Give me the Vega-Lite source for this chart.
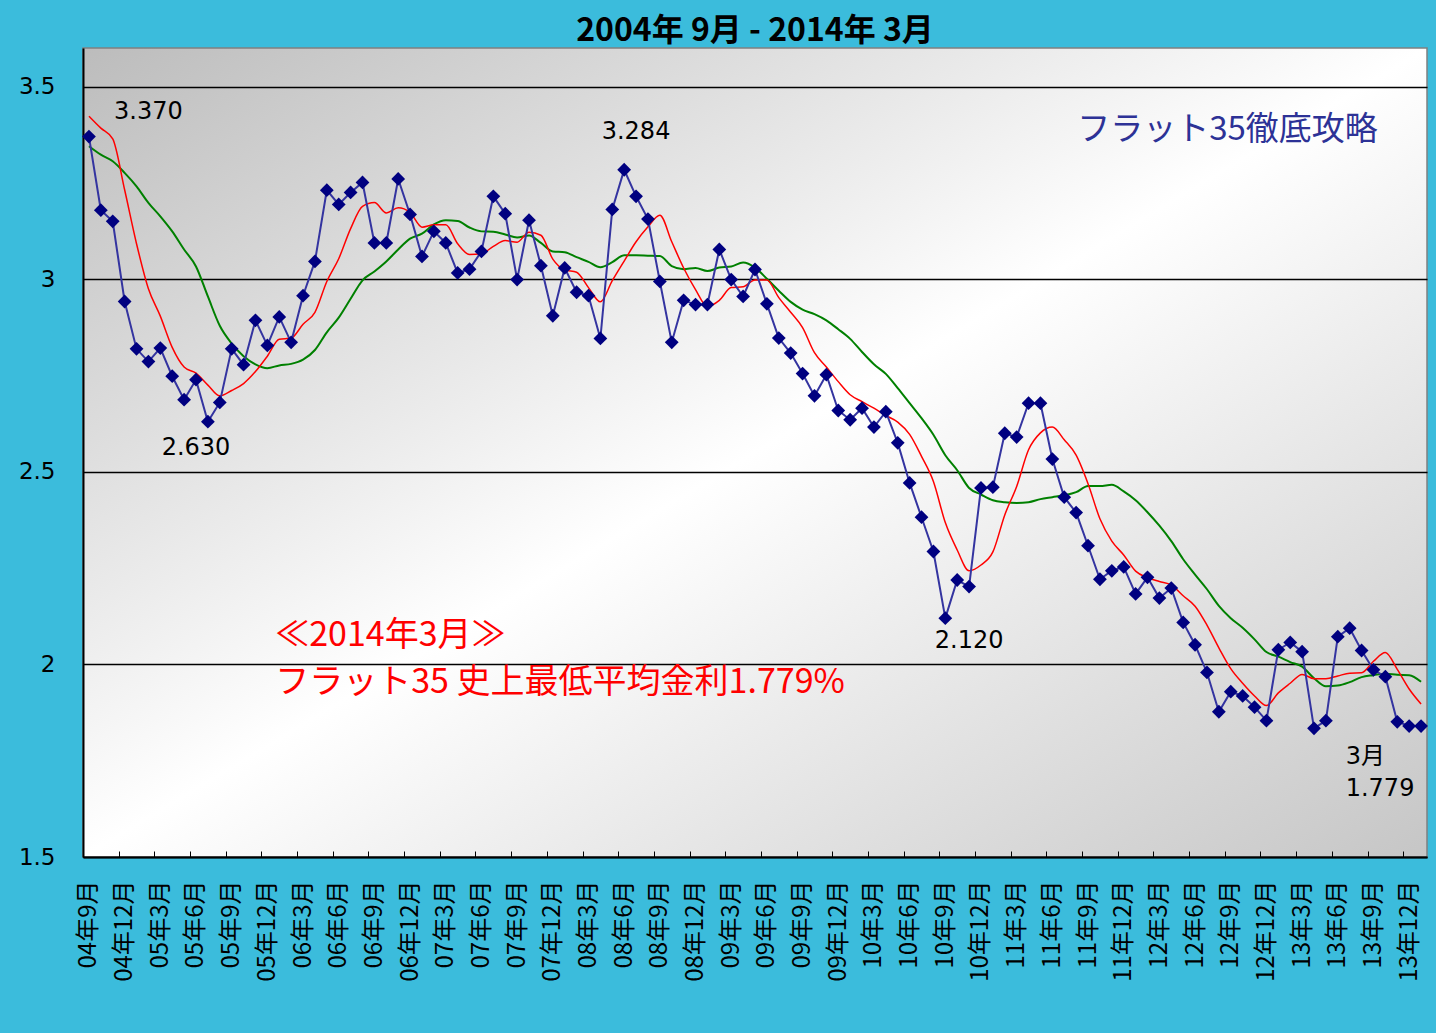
{
  "$schema": "https://vega.github.io/schema/vega-lite/v6.json",
  "width": 1344,
  "height": 809,
  "autosize": {"type": "none"},
  "padding": {"left": 83, "top": 48, "right": 9, "bottom": 176},
  "background": "#3bbcdc",
  "title": {"text": "2004年 9月 - 2014年 3月", "font": "Noto Sans CJK JP", "fontSize": 32, "fontWeight": "bold", "color": "#000000", "anchor": "middle", "frame": "group", "offset": 0},
  "config": {
    "view": {
      "fill": {"gradient": "linear", "x1": 0, "y1": 0, "x2": 1, "y2": 1,
        "stops": [{"offset": 0, "color": "#bcbcbc"}, {"offset": 0.5, "color": "#ffffff"}, {"offset": 1, "color": "#c6c6c6"}]},
      "stroke": "#808080",
      "strokeWidth": 1.5
    }
  },
  "datasets": {
    "rates": [
      {"month": "04年9月", "rate": 3.370, "ma5": 3.423, "ma12": 3.345},
      {"month": "04年10月", "rate": 3.179, "ma5": 3.392, "ma12": 3.323},
      {"month": "04年11月", "rate": 3.150, "ma5": 3.364, "ma12": 3.306},
      {"month": "04年12月", "rate": 2.942, "ma5": 3.232, "ma12": 3.276},
      {"month": "05年1月", "rate": 2.819, "ma5": 3.092, "ma12": 3.241},
      {"month": "05年2月", "rate": 2.786, "ma5": 2.975, "ma12": 3.198},
      {"month": "05年3月", "rate": 2.821, "ma5": 2.904, "ma12": 3.163},
      {"month": "05年4月", "rate": 2.748, "ma5": 2.823, "ma12": 3.124},
      {"month": "05年5月", "rate": 2.687, "ma5": 2.772, "ma12": 3.077},
      {"month": "05年6月", "rate": 2.739, "ma5": 2.756, "ma12": 3.033},
      {"month": "05年7月", "rate": 2.630, "ma5": 2.725, "ma12": 2.955},
      {"month": "05年8月", "rate": 2.680, "ma5": 2.697, "ma12": 2.879},
      {"month": "05年9月", "rate": 2.819, "ma5": 2.711, "ma12": 2.833},
      {"month": "05年10月", "rate": 2.778, "ma5": 2.729, "ma12": 2.800},
      {"month": "05年11月", "rate": 2.893, "ma5": 2.760, "ma12": 2.779},
      {"month": "05年12月", "rate": 2.828, "ma5": 2.800, "ma12": 2.769},
      {"month": "06年1月", "rate": 2.902, "ma5": 2.844, "ma12": 2.776},
      {"month": "06年2月", "rate": 2.836, "ma5": 2.847, "ma12": 2.780},
      {"month": "06年3月", "rate": 2.957, "ma5": 2.883, "ma12": 2.791},
      {"month": "06年4月", "rate": 3.046, "ma5": 2.914, "ma12": 2.816},
      {"month": "06年5月", "rate": 3.231, "ma5": 2.994, "ma12": 2.862},
      {"month": "06年6月", "rate": 3.194, "ma5": 3.053, "ma12": 2.900},
      {"month": "06年7月", "rate": 3.225, "ma5": 3.131, "ma12": 2.949},
      {"month": "06年8月", "rate": 3.251, "ma5": 3.189, "ma12": 2.997},
      {"month": "06年9月", "rate": 3.094, "ma5": 3.199, "ma12": 3.020},
      {"month": "06年10月", "rate": 3.094, "ma5": 3.172, "ma12": 3.046},
      {"month": "06年11月", "rate": 3.260, "ma5": 3.185, "ma12": 3.077},
      {"month": "06年12月", "rate": 3.168, "ma5": 3.173, "ma12": 3.105},
      {"month": "07年1月", "rate": 3.059, "ma5": 3.135, "ma12": 3.118},
      {"month": "07年2月", "rate": 3.124, "ma5": 3.141, "ma12": 3.142},
      {"month": "07年3月", "rate": 3.094, "ma5": 3.141, "ma12": 3.153},
      {"month": "07年4月", "rate": 3.016, "ma5": 3.092, "ma12": 3.151},
      {"month": "07年5月", "rate": 3.026, "ma5": 3.064, "ma12": 3.134},
      {"month": "07年6月", "rate": 3.072, "ma5": 3.066, "ma12": 3.124},
      {"month": "07年7月", "rate": 3.215, "ma5": 3.085, "ma12": 3.123},
      {"month": "07年8月", "rate": 3.170, "ma5": 3.100, "ma12": 3.116},
      {"month": "07年9月", "rate": 2.999, "ma5": 3.096, "ma12": 3.108},
      {"month": "07年10月", "rate": 3.153, "ma5": 3.122, "ma12": 3.113},
      {"month": "07年11月", "rate": 3.035, "ma5": 3.114, "ma12": 3.094},
      {"month": "07年12月", "rate": 2.905, "ma5": 3.052, "ma12": 3.072},
      {"month": "08年1月", "rate": 3.029, "ma5": 3.024, "ma12": 3.070},
      {"month": "08年2月", "rate": 2.966, "ma5": 3.018, "ma12": 3.057},
      {"month": "08年3月", "rate": 2.957, "ma5": 2.978, "ma12": 3.045},
      {"month": "08年4月", "rate": 2.846, "ma5": 2.941, "ma12": 3.031},
      {"month": "08年5月", "rate": 3.181, "ma5": 2.996, "ma12": 3.044},
      {"month": "08年6月", "rate": 3.284, "ma5": 3.047, "ma12": 3.062},
      {"month": "08年7月", "rate": 3.215, "ma5": 3.097, "ma12": 3.062},
      {"month": "08年8月", "rate": 3.156, "ma5": 3.136, "ma12": 3.061},
      {"month": "08年9月", "rate": 2.994, "ma5": 3.166, "ma12": 3.060},
      {"month": "08年10月", "rate": 2.836, "ma5": 3.097, "ma12": 3.034},
      {"month": "08年11月", "rate": 2.945, "ma5": 3.029, "ma12": 3.026},
      {"month": "08年12月", "rate": 2.934, "ma5": 2.973, "ma12": 3.029},
      {"month": "09年1月", "rate": 2.934, "ma5": 2.929, "ma12": 3.021},
      {"month": "09年2月", "rate": 3.077, "ma5": 2.945, "ma12": 3.030},
      {"month": "09年3月", "rate": 2.999, "ma5": 2.978, "ma12": 3.033},
      {"month": "09年4月", "rate": 2.955, "ma5": 2.980, "ma12": 3.043},
      {"month": "09年5月", "rate": 3.025, "ma5": 2.998, "ma12": 3.030},
      {"month": "09年6月", "rate": 2.936, "ma5": 2.998, "ma12": 3.001},
      {"month": "09年7月", "rate": 2.847, "ma5": 2.952, "ma12": 2.970},
      {"month": "09年8月", "rate": 2.808, "ma5": 2.914, "ma12": 2.941},
      {"month": "09年9月", "rate": 2.755, "ma5": 2.874, "ma12": 2.921},
      {"month": "09年10月", "rate": 2.697, "ma5": 2.809, "ma12": 2.909},
      {"month": "09年11月", "rate": 2.752, "ma5": 2.772, "ma12": 2.893},
      {"month": "09年12月", "rate": 2.659, "ma5": 2.734, "ma12": 2.870},
      {"month": "10年1月", "rate": 2.635, "ma5": 2.700, "ma12": 2.845},
      {"month": "10年2月", "rate": 2.665, "ma5": 2.682, "ma12": 2.811},
      {"month": "10年3月", "rate": 2.616, "ma5": 2.665, "ma12": 2.779},
      {"month": "10年4月", "rate": 2.656, "ma5": 2.646, "ma12": 2.754},
      {"month": "10年5月", "rate": 2.575, "ma5": 2.629, "ma12": 2.717},
      {"month": "10年6月", "rate": 2.471, "ma5": 2.597, "ma12": 2.678},
      {"month": "10年7月", "rate": 2.382, "ma5": 2.540, "ma12": 2.639},
      {"month": "10年8月", "rate": 2.293, "ma5": 2.475, "ma12": 2.596},
      {"month": "10年9月", "rate": 2.120, "ma5": 2.368, "ma12": 2.543},
      {"month": "10年10月", "rate": 2.219, "ma5": 2.297, "ma12": 2.504},
      {"month": "10年11月", "rate": 2.202, "ma5": 2.243, "ma12": 2.458},
      {"month": "10年12月", "rate": 2.458, "ma5": 2.258, "ma12": 2.441},
      {"month": "11年1月", "rate": 2.460, "ma5": 2.292, "ma12": 2.426},
      {"month": "11年2月", "rate": 2.600, "ma5": 2.388, "ma12": 2.421},
      {"month": "11年3月", "rate": 2.590, "ma5": 2.462, "ma12": 2.419},
      {"month": "11年4月", "rate": 2.678, "ma5": 2.557, "ma12": 2.421},
      {"month": "11年5月", "rate": 2.678, "ma5": 2.601, "ma12": 2.429},
      {"month": "11年6月", "rate": 2.533, "ma5": 2.616, "ma12": 2.434},
      {"month": "11年7月", "rate": 2.434, "ma5": 2.583, "ma12": 2.439},
      {"month": "11年8月", "rate": 2.394, "ma5": 2.543, "ma12": 2.447},
      {"month": "11年9月", "rate": 2.308, "ma5": 2.469, "ma12": 2.463},
      {"month": "11年10月", "rate": 2.221, "ma5": 2.378, "ma12": 2.463},
      {"month": "11年11月", "rate": 2.243, "ma5": 2.320, "ma12": 2.466},
      {"month": "11年12月", "rate": 2.253, "ma5": 2.284, "ma12": 2.449},
      {"month": "12年1月", "rate": 2.183, "ma5": 2.242, "ma12": 2.426},
      {"month": "12年2月", "rate": 2.226, "ma5": 2.225, "ma12": 2.395},
      {"month": "12年3月", "rate": 2.172, "ma5": 2.215, "ma12": 2.360},
      {"month": "12年4月", "rate": 2.198, "ma5": 2.206, "ma12": 2.320},
      {"month": "12年5月", "rate": 2.109, "ma5": 2.178, "ma12": 2.273},
      {"month": "12年6月", "rate": 2.051, "ma5": 2.151, "ma12": 2.233},
      {"month": "12年7月", "rate": 1.979, "ma5": 2.102, "ma12": 2.195},
      {"month": "12年8月", "rate": 1.877, "ma5": 2.043, "ma12": 2.152},
      {"month": "12年9月", "rate": 1.929, "ma5": 1.989, "ma12": 2.120},
      {"month": "12年10月", "rate": 1.918, "ma5": 1.951, "ma12": 2.095},
      {"month": "12年11月", "rate": 1.889, "ma5": 1.918, "ma12": 2.065},
      {"month": "12年12月", "rate": 1.854, "ma5": 1.893, "ma12": 2.032},
      {"month": "13年1月", "rate": 2.038, "ma5": 1.926, "ma12": 2.020},
      {"month": "13年2月", "rate": 2.057, "ma5": 1.951, "ma12": 2.006},
      {"month": "13年3月", "rate": 2.033, "ma5": 1.974, "ma12": 1.994},
      {"month": "13年4月", "rate": 1.834, "ma5": 1.963, "ma12": 1.964},
      {"month": "13年5月", "rate": 1.854, "ma5": 1.963, "ma12": 1.943},
      {"month": "13年6月", "rate": 2.072, "ma5": 1.970, "ma12": 1.945},
      {"month": "13年7月", "rate": 2.094, "ma5": 1.977, "ma12": 1.954},
      {"month": "13年8月", "rate": 2.036, "ma5": 1.978, "ma12": 1.967},
      {"month": "13年9月", "rate": 1.986, "ma5": 2.008, "ma12": 1.972},
      {"month": "13年10月", "rate": 1.968, "ma5": 2.031, "ma12": 1.976},
      {"month": "13年11月", "rate": 1.851, "ma5": 1.987, "ma12": 1.973},
      {"month": "13年12月", "rate": 1.840, "ma5": 1.936, "ma12": 1.972},
      {"month": "14年1月", "rate": 1.840, "ma5": 1.897, "ma12": 1.955}
    ],
    "peaks": [
      {"month": "05年2月", "v": 3.435, "text": "3.370"},
      {"month": "05年6月", "v": 2.562, "text": "2.630"},
      {"month": "08年7月", "v": 3.381, "text": "3.284"},
      {"month": "10年11月", "v": 2.061, "text": "2.120"}
    ],
    "latest": [
      {"month": "13年7月", "v": 1.760, "text": "3月"},
      {"month": "13年7月", "v": 1.677, "text": "1.779"}
    ],
    "headline": [
      {"month": "06年1月", "v": 2.074, "text": "≪2014年3月≫"},
      {"month": "06年1月", "v": 1.952, "text": "フラット35 史上最低平均金利1.779%"}
    ],
    "brand": [
      {"month": "11年8月", "v": 3.388, "text": "フラット35徹底攻略"}
    ]
  },
  "layer": [
    {
      "data": {"name": "rates"},
      "mark": {"type": "line", "color": "#008000", "strokeWidth": 2, "interpolate": "monotone"},
      "encoding": {
        "x": {"field": "month", "type": "ordinal", "sort": null,
          "scale": {"type": "point", "padding": 0.5},
          "axis": {
            "title": null,
            "values": ["04年9月","04年12月","05年3月","05年6月","05年9月","05年12月","06年3月","06年6月","06年9月","06年12月","07年3月","07年6月","07年9月","07年12月","08年3月","08年6月","08年9月","08年12月","09年3月","09年6月","09年9月","09年12月","10年3月","10年6月","10年9月","10年12月","11年3月","11年6月","11年9月","11年12月","12年3月","12年6月","12年9月","12年12月","13年3月","13年6月","13年9月","13年12月"],
            "labelAngle": 270, "labelAlign": "right", "labelBaseline": "middle",
            "labelFont": "Noto Sans CJK JP", "labelFontSize": 24, "labelColor": "#000000",
            "labelOverlap": false, "labelPadding": 29,
            "tickOffset": -5.947, "labelOffset": 5.947,
            "tickSize": -6, "tickColor": "#000000", "tickWidth": 1,
            "domainColor": "#000000", "domainWidth": 2, "grid": false
          }
        },
        "y": {"field": "ma12", "type": "quantitative",
          "scale": {"domain": [1.5, 3.6], "nice": false, "zero": false},
          "axis": {
            "title": null, "values": [1.5, 2, 2.5, 3, 3.5], "format": "~g",
            "grid": true, "gridColor": "#000000", "gridWidth": 1.5,
            "ticks": false, "domainColor": "#000000", "domainWidth": 2,
            "labelFont": "DejaVu Sans", "labelFontSize": 23, "labelColor": "#000000", "labelPadding": 28
          }
        }
      }
    },
    {
      "data": {"name": "rates"},
      "mark": {"type": "line", "color": "#ff0000", "strokeWidth": 1.5, "interpolate": "monotone"},
      "encoding": {
        "x": {"field": "month", "type": "ordinal", "sort": null},
        "y": {"field": "ma5", "type": "quantitative"}
      }
    },
    {
      "data": {"name": "rates"},
      "mark": {"type": "line", "color": "#3434a0", "strokeWidth": 2},
      "encoding": {
        "x": {"field": "month", "type": "ordinal", "sort": null},
        "y": {"field": "rate", "type": "quantitative"}
      }
    },
    {
      "data": {"name": "rates"},
      "mark": {"type": "point", "shape": "diamond", "filled": true, "color": "#000080", "size": 190, "opacity": 1},
      "encoding": {
        "x": {"field": "month", "type": "ordinal", "sort": null},
        "y": {"field": "rate", "type": "quantitative"}
      }
    },
    {
      "data": {"name": "peaks"},
      "mark": {"type": "text", "font": "DejaVu Sans", "fontSize": 24, "color": "#000000", "align": "center", "baseline": "middle"},
      "encoding": {
        "x": {"field": "month", "type": "ordinal", "sort": null},
        "y": {"field": "v", "type": "quantitative"},
        "text": {"field": "text"}
      }
    },
    {
      "data": {"name": "latest"},
      "mark": {"type": "text", "font": "DejaVu Sans, Noto Sans CJK JP", "fontSize": 24, "color": "#000000", "align": "left", "baseline": "middle", "dx": -4},
      "encoding": {
        "x": {"field": "month", "type": "ordinal", "sort": null},
        "y": {"field": "v", "type": "quantitative"},
        "text": {"field": "text"}
      }
    },
    {
      "data": {"name": "headline"},
      "mark": {"type": "text", "font": "Noto Sans CJK JP", "fontSize": 34, "color": "#ff0000", "align": "left", "baseline": "middle", "dx": -4},
      "encoding": {
        "x": {"field": "month", "type": "ordinal", "sort": null},
        "y": {"field": "v", "type": "quantitative"},
        "text": {"field": "text"}
      }
    },
    {
      "data": {"name": "brand"},
      "mark": {"type": "text", "font": "Noto Sans CJK JP", "fontSize": 33, "color": "#2d3296", "align": "left", "baseline": "middle", "dx": 1},
      "encoding": {
        "x": {"field": "month", "type": "ordinal", "sort": null},
        "y": {"field": "v", "type": "quantitative"},
        "text": {"field": "text"}
      }
    }
  ]
}
